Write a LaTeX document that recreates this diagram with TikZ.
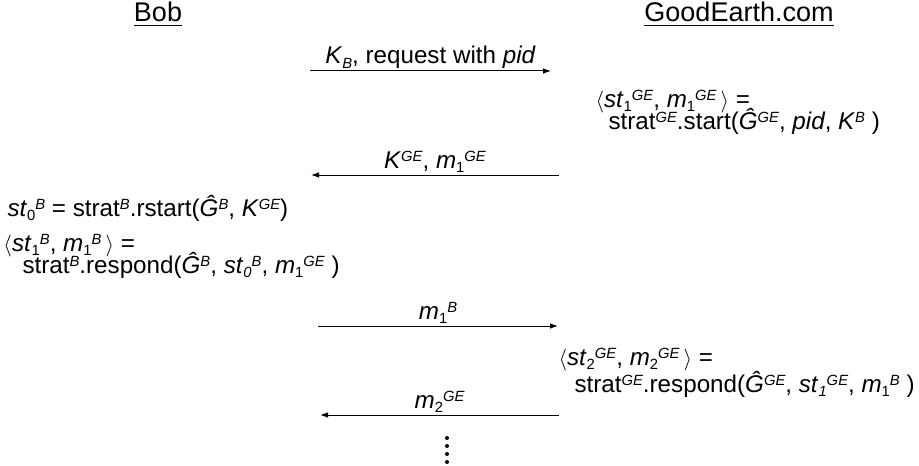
\documentclass[tikz,border=0pt]{standalone}
\usepackage{fontspec}
\setmainfont{Liberation Sans}
\usetikzlibrary{arrows.meta}

\newcommand{\sps}[1]{\raisebox{0.26em}{\fontsize{7.4}{8}\selectfont\itshape #1}}
\newcommand{\sbs}[1]{\raisebox{-0.2em}{\fontsize{7.4}{8}\selectfont #1}}
\newcommand{\ang}[1]{{\fontsize{10.5}{10}\selectfont$\langle$}#1{\fontsize{10.5}{10}\selectfont$\rangle$}}
\newcommand{\headfont}{\fontsize{13.5}{16}\selectfont}
\newcommand{\msgfont}{\fontsize{12.1}{10}\selectfont}

\tikzset{
    head/.style = {font=\headfont, inner sep=0pt, anchor=base},
    calc/.style = {font=\msgfont, inner sep=0pt, anchor=base west},
    msg/.style  = {font=\msgfont, inner sep=0pt, anchor=base, yshift=3.5pt}
}

\begin{document}
\begin{tikzpicture}[> = {Latex[length=4pt, width=2.8pt]}, x=0.5pt, y=-0.5pt, line width=0.5pt]
    \useasboundingbox (0, 0) rectangle (919, 465);
    % Parties
    \node [head] (bob) at (158, 22) {\underline{Bob}};
    \node [head] (ge) at (739, 22) {\underline{GoodEarth.com}};

    % Message ends
    \coordinate (b1) at (310, 71);  \coordinate (g1) at (551, 71);
    \coordinate (g2) at (559, 175); \coordinate (b2) at (311, 175);
    \coordinate (b3) at (318, 326); \coordinate (g3) at (558, 326);
    \coordinate (g4) at (559, 415); \coordinate (b4) at (320, 415);

    % Messages
    \draw [->] (b1) -- node [msg] (m1) {\textit{K}\sbs{\itshape B}, request with \textit{pid}} (g1);
    \draw [->] (g2) -- node [msg] (m2) {\textit{K}\sps{GE}, \textit{m}\sbs{1}\sps{GE}} (b2);
    \draw [->] (b3) -- node [msg] (m3) {\textit{m}\sbs{1}\sps{B}} (g3);
    \draw [->] (g4) -- node [msg] (m4) {\textit{m}\sbs{2}\sps{GE}} (b4);

    % Computations at GoodEarth.com
    \node [calc] (ge1a) at (595, 107)
        {\ang{\textit{st}\sbs{1}\sps{GE}, \textit{m}\sbs{1}\sps{GE}\,} =};
    \node [calc] (ge1b) at (608, 129)
        {strat\sps{GE}.start(\textit{Ĝ}\sps{GE}, \textit{pid}, \textit{K}\sps{B} )};
    \node [calc] (ge2a) at (558, 365)
        {\ang{\textit{st}\sbs{2}\sps{GE}, \textit{m}\sbs{2}\sps{GE}\,} =};
    \node [calc] (ge2b) at (574, 392)
        {strat\sps{GE}.respond(\textit{Ĝ}\sps{GE}, \textit{st}\sbs{\itshape 1}\sps{GE}, \textit{m}\sbs{1}\sps{B} )};

    % Computations at Bob
    \node [calc] (bob1) at (7, 216)
        {\textit{st}\sbs{0}\sps{B} = strat\sps{B}.rstart(\textit{Ĝ}\sps{B}, \textit{K}\sps{GE})};
    \node [calc] (bob2a) at (3, 251)
        {\ang{\textit{st}\sbs{1}\sps{B}, \textit{m}\sbs{1}\sps{B}\,} =};
    \node [calc] (bob2b) at (22, 273)
        {strat\sps{B}.respond(\textit{Ĝ}\sps{B}, \textit{st}\sbs{\itshape 0}\sps{B}, \textit{m}\sbs{1}\sps{GE} )};

    % More rounds
    \foreach \y in {438, 446, 454, 462}
        \fill (447, \y) circle (2);
\end{tikzpicture}
\end{document}
